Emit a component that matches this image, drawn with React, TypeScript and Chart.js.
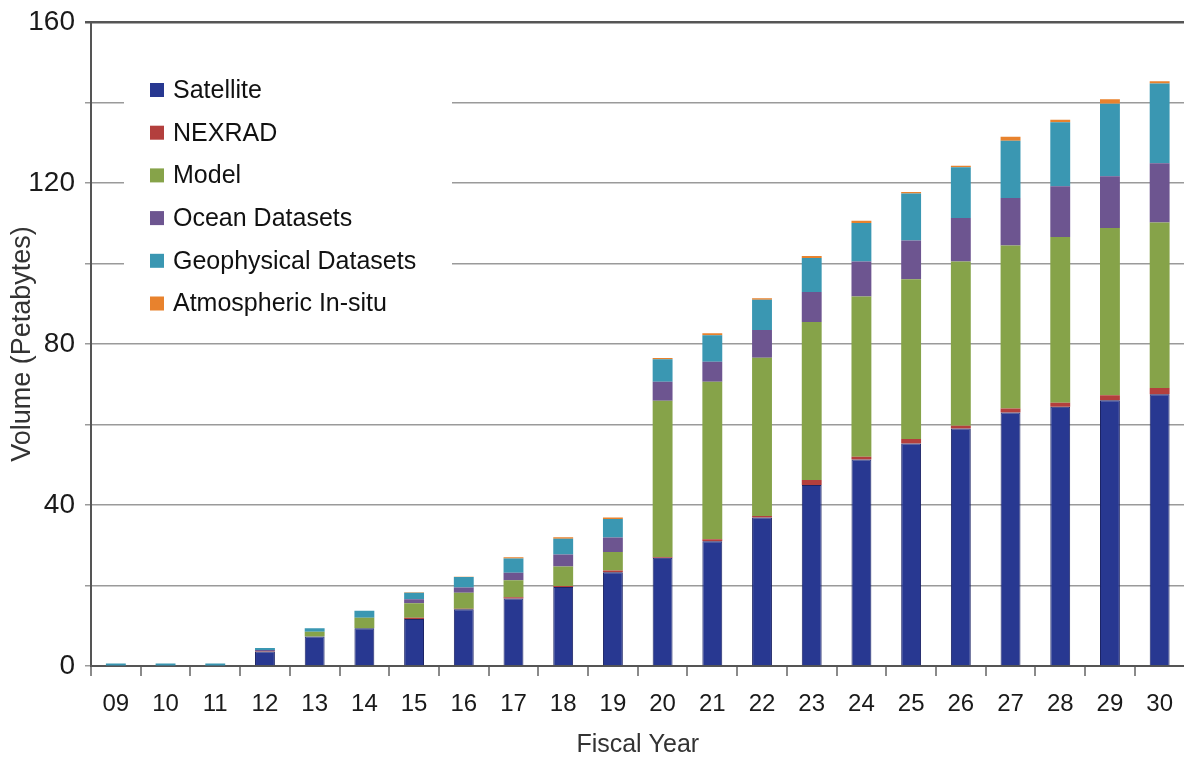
import React, { useEffect, useRef } from "react";
import { Chart, registerables } from "chart.js";

Chart.register(...registerables);

const years = ["09", "10", "11", "12", "13", "14", "15", "16", "17", "18", "19", "20", "21", "22", "23", "24", "25", "26", "27", "28", "29", "30"];
const satellite = [0.1, 0.1, 0.1, 3.6, 7.3, 9.4, 11.7, 14.1, 16.8, 19.6, 23.3, 26.9, 31.0, 36.9, 45.0, 51.3, 55.3, 59.0, 63.0, 64.4, 66.0, 67.5];
const nexrad = [0, 0, 0, 0.1, 0, 0, 0.3, 0.1, 0.3, 0.3, 0.4, 0.2, 0.5, 0.4, 1.2, 0.7, 1.1, 0.7, 1.0, 1.0, 1.3, 1.6];
const model = [0, 0, 0, 0, 1.2, 2.6, 3.6, 4.0, 4.2, 4.8, 4.6, 38.8, 39.1, 39.3, 39.3, 39.8, 39.7, 40.8, 40.5, 41.2, 41.5, 41.1];
const ocean = [0, 0, 0, 0.3, 0, 0, 1.0, 1.3, 1.9, 3.0, 3.6, 4.7, 5.0, 6.9, 7.4, 8.7, 9.6, 10.8, 11.8, 12.6, 12.9, 14.7];
const geophysical = [0.5, 0.5, 0.5, 0.5, 0.9, 1.7, 1.6, 2.6, 3.5, 3.9, 4.6, 5.6, 6.6, 7.5, 8.5, 9.6, 11.7, 12.6, 14.2, 15.9, 18.0, 19.8];
const atmospheric = [0, 0, 0, 0, 0, 0, 0.1, 0.1, 0.3, 0.4, 0.4, 0.3, 0.5, 0.4, 0.5, 0.5, 0.4, 0.4, 1.0, 0.6, 1.1, 0.6];

const seriesNames = ["Satellite", "NEXRAD", "Model", "Ocean Datasets", "Geophysical Datasets", "Atmospheric In-situ"];
const seriesColors = ["#283891", "#b33f3d", "#86a349", "#6d5590", "#3a97b2", "#e8822d"];
const seriesValues = [satellite, nexrad, model, ocean, geophysical, atmospheric];

const FONT = "'Liberation Sans', Arial, Helvetica, sans-serif";

const insideLegend = {
  id: "insideLegend",
  beforeDatasetsDraw(chart: any) {
    const ctx = chart.ctx;
    ctx.save();
    ctx.fillStyle = "#ffffff";
    ctx.fillRect(124, 40, 328, 288);
    ctx.font = `25px ${FONT}`;
    ctx.textBaseline = "middle";
    ctx.textAlign = "left";
    chart.data.datasets.forEach((ds: any, i: number) => {
      const cy = 90 + i * 42.7;
      ctx.fillStyle = ds.backgroundColor;
      ctx.fillRect(150, cy - 7, 14, 14);
      ctx.fillStyle = "#111111";
      ctx.fillText(ds.label, 173, cy + 1);
    });
    ctx.restore();
  },
};

export default function App() {
  const ref = useRef<HTMLCanvasElement | null>(null);
  useEffect(() => {
    if (!ref.current) return;
    Chart.defaults.font.family = FONT;
    const chart = new Chart(ref.current, {
      type: "bar",
      data: {
        labels: years,
        datasets: seriesNames.map((name, i) => ({
          label: name,
          data: seriesValues[i],
          backgroundColor: seriesColors[i],
          borderColor: i === 0 ? "#1c2466" : seriesColors[i],
          borderWidth: i === 0 ? 1 : 0,
          barPercentage: 0.4,
          categoryPercentage: 1.0,
        })),
      },
      options: {
        responsive: false,
        animation: false,
        layout: { padding: { top: 10, right: 0, left: 0, bottom: 0 } },
        plugins: {
          legend: { display: false },
          tooltip: { enabled: false },
        },
        scales: {
          x: {
            stacked: true,
            grid: {
              display: true,
              drawOnChartArea: false,
              drawTicks: true,
              tickLength: 10,
              color: "#8a8a8a",
              lineWidth: 2,
              offset: true,
            },
            border: { display: true, color: "#555555", width: 2 },
            ticks: { font: { size: 24 }, color: "#1a1a1a", padding: 14, maxRotation: 0, autoSkip: false },
            title: { display: true, text: "Fiscal Year", font: { size: 25, lineHeight: 1.0 }, color: "#333333", padding: { top: 0, bottom: 0 } },
            afterFit: (s: any) => {
              s.height = 92;
            },
          },
          y: {
            stacked: true,
            min: 0,
            max: 160,
            ticks: {
              stepSize: 20,
              font: { size: 28, lineHeight: 0.86 },
              color: "#1a1a1a",
              padding: 10,
              callback: (v: any) => (Number(v) % 40 === 0 ? String(v) : ""),
            },
            grid: {
              drawTicks: true,
              tickLength: 6,
              color: (c: any) => (c.tick && c.tick.value === 160 ? "#555555" : "#9a9a9a"),
              lineWidth: (c: any) => (c.tick && c.tick.value === 160 ? 2.5 : 1.5),
            },
            border: { display: true, color: "#555555", width: 2 },
            title: { display: true, text: "Volume (Petabytes)", font: { size: 27 }, color: "#333333", padding: { top: 6, bottom: 0 } },
            afterFit: (s: any) => {
              s.width = 91;
            },
          },
        },
      },
      plugins: [insideLegend],
    });
    return () => chart.destroy();
  }, []);
  return (
    <div style={{ position: "fixed", left: 0, top: 0, width: 1184, height: 758, overflow: "hidden", background: "#fff" }}>
      <canvas ref={ref} width={1187} height={758} style={{ display: "block" }} />
    </div>
  );
}
